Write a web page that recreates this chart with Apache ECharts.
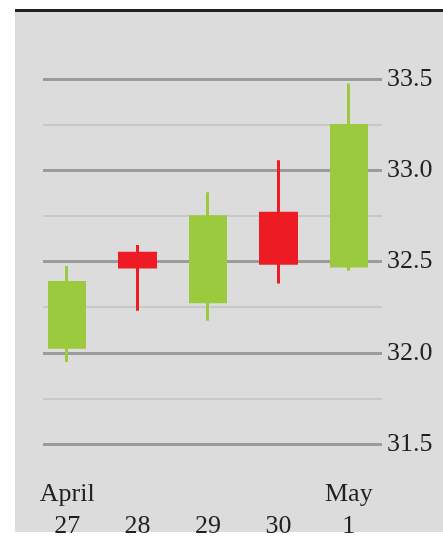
<!DOCTYPE html>
<html>
<head>
<meta charset="utf-8">
<script src="https://cdn.jsdelivr.net/npm/echarts@6/dist/echarts.min.js"></script>
<style>
  html, body { margin: 0; padding: 0; background: #fff; }
  #chart { width: 443px; height: 542px; }
</style>
</head>
<body>
<div id="chart"></div>
<script>
// data
const days = ['April\n27', '\n28', '\n29', '\n30', 'May\n1'];
const openPrices = [32.03, 32.545, 32.28, 32.765, 32.475];
const closePrices = [32.385, 32.47, 32.745, 32.49, 33.245];
const lowPrices = [31.95, 32.23, 32.175, 32.38, 32.45];
const highPrices = [32.475, 32.59, 32.88, 33.055, 33.475];
const priceTicks = [31.5, 33.5, 0.5]; // min, max, step

const green = '#9bca3e';
const red = '#ed1c24';
const textColor = '#231f20';

const candles = days.map((d, i) => [openPrices[i], closePrices[i], lowPrices[i], highPrices[i]]);

var myChart = echarts.init(document.getElementById('chart'));
var option = {
    animation: false,
    backgroundColor: '#fff',
    graphic: {
        z: -1,
        elements: [
            { type: 'rect', z: -1, shape: { x: 15, y: 12, width: 428, height: 520 }, style: { fill: '#dcdcdc' } },
            { type: 'rect', z: -1, shape: { x: 15, y: 9, width: 428, height: 3 }, style: { fill: '#231f20' } }
        ]
    },
    grid: [
        // grid lines and price labels
        { left: 43, right: 61, top: 79, bottom: 98 },
        // candles, a bit wider so the bands line up with the days
        { left: 32, right: 59, top: 79, bottom: 98 }
    ],
    xAxis: [
        { gridIndex: 0, type: 'value', show: false },
        {
            gridIndex: 1,
            type: 'category',
            data: days,
            axisLine: { show: false },
            axisTick: { show: false },
            splitLine: { show: false },
            axisLabel: {
                interval: 0,
                hideOverlap: false,
                margin: 34,
                fontFamily: 'Liberation Serif',
                fontSize: 26,
                lineHeight: 32,
                color: textColor,
                verticalAlign: 'top'
            }
        }
    ],
    yAxis: [
        {
            gridIndex: 0,
            type: 'value',
            position: 'right',
            min: priceTicks[0],
            max: priceTicks[1],
            interval: priceTicks[2],
            axisLine: { show: false },
            axisTick: { show: false },
            axisLabel: {
                margin: 5,
                fontFamily: 'Liberation Serif',
                fontSize: 26,
                color: textColor,
                formatter: function (v) { return v.toFixed(1); }
            },
            splitLine: { show: true, lineStyle: { color: '#9b9b9b', width: 3 } },
            minorTick: { show: false, splitNumber: 2 },
            minorSplitLine: { show: true, lineStyle: { color: '#c8c8c8', width: 2 } }
        },
        {
            gridIndex: 1,
            type: 'value',
            min: priceTicks[0],
            max: priceTicks[1],
            show: false,
            splitLine: { show: false }
        }
    ],
    series: [
        {
            type: 'candlestick',
            xAxisIndex: 1,
            yAxisIndex: 1,
            barWidth: 36,
            data: candles,
            itemStyle: {
                color: green,
                color0: red,
                borderColor: green,
                borderColor0: red,
                borderWidth: 3
            },
            emphasis: { disabled: true }
        }
    ]
};
option && myChart.setOption(option);
</script>
</body>
</html>
